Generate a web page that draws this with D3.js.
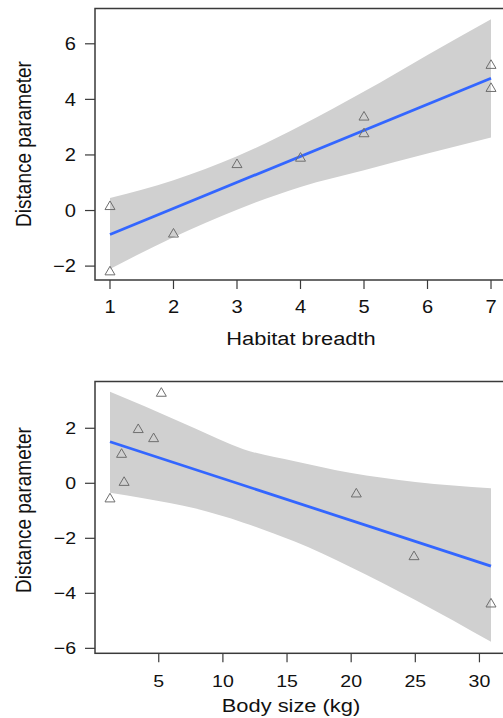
<!DOCTYPE html>
<html>
<head>
<meta charset="utf-8">
<script src="https://cdn.jsdelivr.net/npm/d3@7"></script>
<style>
  body { margin: 0; background: #fff; }
  svg { display: block; font-family: "Liberation Sans", Arial, sans-serif; }
</style>
</head>
<body>
<div id="app"></div>
<script>
// top panel: habitat breadth
var habitatX = [1, 1, 2, 3, 4, 5, 5, 7, 7]
var habitatY = [0.19, -2.16, -0.8, 1.7, 1.93, 3.41, 2.81, 5.27, 4.44]
var habitatFitX = [1, 7]
var habitatFitY = [-0.86, 4.76]
var habitatBandX = [1, 2, 3, 4, 5, 6, 7]
var habitatBandLo = [-2.1, -0.96, 0.03, 0.85, 1.45, 2.05, 2.63]
var habitatBandHi = [0.45, 1.09, 1.95, 3.05, 4.28, 5.6, 6.88]
var habitatXTicks = [1, 2, 3, 4, 5, 6, 7]
var habitatYTicks = [-2, 0, 2, 4, 6]

// bottom panel: body size
var bodyX = [1.2, 2.1, 2.3, 3.4, 4.6, 5.2, 20.4, 24.9, 30.9]
var bodyY = [-0.52, 1.1, 0.08, 2.0, 1.67, 3.32, -0.34, -2.62, -4.34]
var bodyFitX = [1.2, 30.9]
var bodyFitY = [1.51, -3.01]
var bodyBandX = [1.2, 3.9, 7.8, 11.6, 15.6, 19.9, 25, 30.9]
var bodyBandLo = [-0.34, -0.55, -0.91, -1.43, -2.12, -3.03, -4.24, -5.76]
var bodyBandHi = [3.33, 2.8, 2.0, 1.24, 0.8, 0.38, 0.05, -0.18]
var bodyXTicks = [5, 10, 15, 20, 25, 30]
var bodyYTicks = [-6, -4, -2, 0, 2]

var W = 503, H = 718
var SX = 1.15   // picture is stretched a bit horizontally

var svg = d3.select('#app').append('svg')
  .attr('width', W).attr('height', H)

function fmt(v) { return v < 0 ? '\u2212' + Math.abs(v) : String(v) }

function panel(o) {
  var x = d3.scaleLinear().domain(o.xDomain).range([o.left, o.right])
  var y = d3.scaleLinear().domain(o.yDomain).range([o.bottom, o.top])
  var g = svg.append('g')

  // confidence band
  var band = o.bandX.map(function(d, i) { return { x: d, lo: o.bandLo[i], hi: o.bandHi[i] } })
  g.append('path')
    .datum(band)
    .attr('fill', '#d0d0d0')
    .attr('d', d3.area()
      .curve(d3.curveMonotoneX)
      .x(function(d) { return x(d.x) })
      .y0(function(d) { return y(d.lo) })
      .y1(function(d) { return y(d.hi) }))

  // fitted line
  g.append('path')
    .datum(o.fitX.map(function(d, i) { return [d, o.fitY[i]] }))
    .attr('fill', 'none')
    .attr('stroke', '#3366ff')
    .attr('stroke-width', 2.8)
    .attr('d', d3.line().x(function(d) { return x(d[0]) }).y(function(d) { return y(d[1]) }))

  // points, open triangles
  var tri = 'M0,-4.6L5,4L-5,4Z'
  g.selectAll('.pt')
    .data(o.px.map(function(d, i) { return [d, o.py[i]] }))
    .enter().append('path')
    .attr('class', 'pt')
    .attr('d', tri)
    .attr('transform', function(d) { return 'translate(' + x(d[0]) + ',' + (y(d[1]) + 0.3) + ')' })
    .attr('fill', 'none')
    .attr('stroke', '#6e6e6e')
    .attr('stroke-width', 1)

  // box (right edge falls outside the window)
  g.append('rect')
    .attr('x', o.left).attr('y', o.top)
    .attr('width', o.right - o.left).attr('height', o.bottom - o.top)
    .attr('fill', 'none').attr('stroke', '#3a3a3a').attr('stroke-width', 1.5)

  // y axis ticks and labels
  var yAxis = g.append('g')
  o.yTicks.forEach(function(t) {
    yAxis.append('line')
      .attr('x1', o.left - 10).attr('x2', o.left)
      .attr('y1', y(t)).attr('y2', y(t))
      .attr('stroke', '#3a3a3a').attr('stroke-width', 1.2)
    yAxis.append('text')
      .attr('transform', 'translate(' + (o.left - 19) + ',' + y(t) + ') scale(' + SX + ',1)')
      .attr('text-anchor', 'end')
      .attr('dy', '0.36em')
      .attr('font-size', o.tickSize)
      .attr('fill', '#111')
      .text(fmt(t))
  })

  // x axis ticks and labels
  var xAxis = g.append('g')
  o.xTicks.forEach(function(t) {
    xAxis.append('line')
      .attr('x1', x(t)).attr('x2', x(t))
      .attr('y1', o.bottom).attr('y2', o.bottom + 9)
      .attr('stroke', '#3a3a3a').attr('stroke-width', 1.2)
    xAxis.append('text')
      .attr('transform', 'translate(' + x(t) + ',' + o.xLabelY + ') scale(' + SX + ',1)')
      .attr('text-anchor', 'middle')
      .attr('font-size', o.tickSize)
      .attr('fill', '#111')
      .text(fmt(t))
  })

  // titles
  g.append('text')
    .attr('transform', 'translate(' + o.xTitleX + ',' + o.xTitleY + ') scale(' + SX + ',1)')
    .attr('text-anchor', 'middle')
    .attr('font-size', 19)
    .attr('fill', '#111')
    .text(o.xTitle)

  g.append('text')
    .attr('transform', 'translate(' + o.yTitleX + ',' + o.yTitleY + ') scale(' + SX + ',1) rotate(-90)')
    .attr('text-anchor', 'middle')
    .attr('font-size', 19)
    .attr('fill', '#111')
    .text('Distance parameter')
}

panel({
  left: 95, right: 506, top: 8.5, bottom: 280,
  xDomain: [0.764, 7.236], yDomain: [-2.5, 7.27],
  bandX: habitatBandX, bandLo: habitatBandLo, bandHi: habitatBandHi,
  fitX: habitatFitX, fitY: habitatFitY,
  px: habitatX, py: habitatY,
  xTicks: habitatXTicks, yTicks: habitatYTicks,
  tickSize: 17.5, xLabelY: 313,
  xTitle: 'Habitat breadth', xTitleX: 301, xTitleY: 345,
  yTitleX: 31, yTitleY: 144
})

panel({
  left: 95, right: 506, top: 381.5, bottom: 653.3,
  xDomain: [0.03, 32.07], yDomain: [-6.18, 3.7],
  bandX: bodyBandX, bandLo: bodyBandLo, bandHi: bodyBandHi,
  fitX: bodyFitX, fitY: bodyFitY,
  px: bodyX, py: bodyY,
  xTicks: bodyXTicks, yTicks: bodyYTicks,
  tickSize: 17, xLabelY: 686.5,
  xTitle: 'Body size (kg)', xTitleX: 291, xTitleY: 712,
  yTitleX: 31, yTitleY: 510
})
</script>
</body>
</html>
